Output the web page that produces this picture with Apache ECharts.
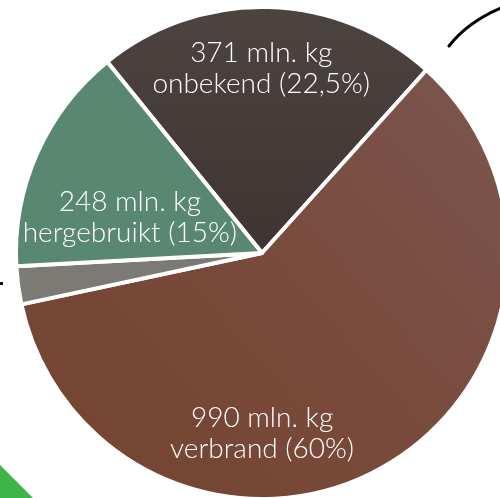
<!DOCTYPE html>
<html><head><meta charset="utf-8">
<script src="https://cdn.jsdelivr.net/npm/echarts@6/dist/echarts.min.js"></script>
<style>html,body{margin:0;padding:0;background:#fff}#c{width:500px;height:498px}</style>
</head><body><div id="c"></div>
<script>
const categories = ['onbekend', 'verbrand', 'overig', 'hergebruikt'];
const values = [371, 990, 41, 248];
const labelTexts = ['371 mln. kg\nonbekend (22,5%)', '990 mln. kg\nverbrand (60%)', '', '248 mln. kg\nhergebruikt (15%)'];
const colors = [
  { type: 'linear', x: 0, y: 0, x2: 0, y2: 1, colorStops: [{ offset: 0, color: '#4d4340' }, { offset: 1, color: '#3e3431' }] },
  { type: 'linear', x: 1, y: 0, x2: 0, y2: 1, colorStops: [{ offset: 0, color: '#7b5650' }, { offset: 0.5, color: '#794a3b' }, { offset: 1, color: '#74432f' }] },
  '#7b7a75',
  '#5a8772'
];
const labelOffsets = [[-4, -59], [-63, 71], [0, 0], [-17, 16]];

const chart = echarts.init(document.getElementById('c'));
chart.setOption({
  animation: false,
  graphic: [
    { type: 'polygon', shape: { points: [[0, 465], [33, 498], [0, 498]] }, style: { fill: '#3db54a' } },
    { type: 'bezierCurve', shape: { x1: 449, y1: 46, cpx1: 463, cpx2: 480, cpy1: 28, cpy2: 17, x2: 501, y2: 8 }, style: { stroke: '#000', lineWidth: 3, fill: null, lineCap: 'round' } },
    { type: 'rect', shape: { x: 0, y: 282, width: 3, height: 3 }, style: { fill: '#111' } }
  ],
  series: [{
    type: 'pie',
    center: [262, 253],
    radius: [0, 246],
    startAngle: 129,
    clockwise: true,
    avoidLabelOverlap: false,
    itemStyle: { borderColor: '#fff', borderWidth: 4 },
    label: {
      show: true, position: 'inside', color: '#fff',
      fontFamily: 'Lato', fontWeight: 300, fontSize: 28, lineHeight: 31, align: 'center'
    },
    labelLine: { show: false },
    emphasis: { disabled: true },
    data: categories.map((c, i) => ({
      name: c, value: values[i],
      itemStyle: { color: colors[i] },
      label: { formatter: labelTexts[i], offset: labelOffsets[i], show: labelTexts[i] !== '' }
    }))
  }]
});
</script></body></html>
